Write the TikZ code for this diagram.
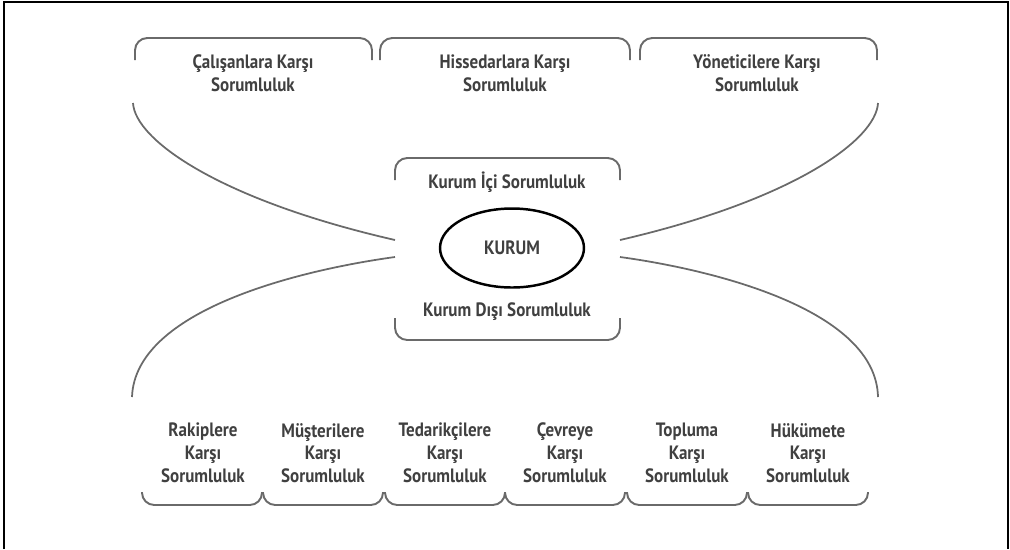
\documentclass[tikz,border=0pt]{standalone}
\usepackage{fontspec}
\setmainfont{PT Sans}[FakeStretch=0.88]
\usetikzlibrary{shapes.geometric}
\definecolor{linegray}{HTML}{6A6A6A}
\definecolor{textgray}{HTML}{404040}
\tikzset{
  lbl/.style={align=center, text=textgray, inner sep=0pt,
    font=\fontsize{11}{13}\selectfont\bfseries},
  brace/.style={draw=linegray, line width=1.1pt, rounded corners=7pt},
  arm/.style={draw=linegray, line width=1pt},
}

\begin{document}
\begin{tikzpicture}[x=0.02cm, y=-0.02cm]
\useasboundingbox (0,0) rectangle (1010,549);
\draw [line width=0.9pt] (4,549) -- (4,2) -- (1008,2) -- (1008,549);

% top row
\node[lbl] (calisan) at (253,73) {Çalışanlara Karşı\\Sorumluluk};
\node[lbl] (hissedar) at (505,73) {Hissedarlara Karşı\\Sorumluluk};
\node[lbl] (yonetici) at (757,73) {Yöneticilere Karşı\\Sorumluluk};

\draw [brace] (135,60) -- (135,38) -- (372,38) -- (372,60);
\draw [brace] (380,60) -- (380,38) -- (630,38) -- (630,60);
\draw [brace] (640,60) -- (640,38) -- (877,38) -- (877,60);

% center
\node[lbl] (ici) at (507,182) {Kurum İçi Sorumluluk};
\node[draw, ellipse, line width=1.4pt, minimum width=2.88cm, minimum height=1.58cm,
  text=textgray, font=\fontsize{11}{13}\selectfont\bfseries] (kurum) at (512,248) {KURUM};
\node[lbl] (disi) at (507,312) {Kurum Dışı Sorumluluk};

\draw [brace] (395,180) -- (395,158) -- (620,158) -- (620,180);
\draw [brace] (395,318) -- (395,340) -- (620,340) -- (620,318);

% arms
\coordinate (tl) at (133,103);
\coordinate (tr) at (878,103);
\coordinate (bl) at (132,397);
\coordinate (br) at (878,397);
\coordinate (kl1) at (395,240);
\coordinate (kl2) at (395,257);
\coordinate (kr1) at (620,240);
\coordinate (kr2) at (620,257);

\draw [arm] (tl) .. controls (135,140) and (220,200) .. (kl1);
\draw [arm] (tr) .. controls (876,140) and (793,200) .. (kr1);
\draw [arm] (kl2) .. controls (300,270) and (135,310) .. (bl);
\draw [arm] (kr2) .. controls (715,270) and (876,310) .. (br);

% bottom row
\node[lbl] (rakip) at (203,453) {Rakiplere\\Karşı\\Sorumluluk};
\node[lbl] (musteri) at (323,453) {Müşterilere\\Karşı\\Sorumluluk};
\node[lbl] (tedarik) at (445,453) {Tedarikçilere\\Karşı\\Sorumluluk};
\node[lbl] (cevre) at (565,453) {Çevreye\\Karşı\\Sorumluluk};
\node[lbl] (toplum) at (687,453) {Topluma\\Karşı\\Sorumluluk};
\node[lbl] (hukumet) at (808,453) {Hükümete\\Karşı\\Sorumluluk};

\draw [brace] (142,492) -- (142,505) -- (262,505) -- (262,492);
\draw [brace] (263,492) -- (263,505) -- (383,505) -- (383,492);
\draw [brace] (385,492) -- (385,505) -- (505,505) -- (505,492);
\draw [brace] (505,492) -- (505,505) -- (625,505) -- (625,492);
\draw [brace] (627,492) -- (627,505) -- (747,505) -- (747,492);
\draw [brace] (748,492) -- (748,505) -- (868,505) -- (868,492);

\end{tikzpicture}
\end{document}
